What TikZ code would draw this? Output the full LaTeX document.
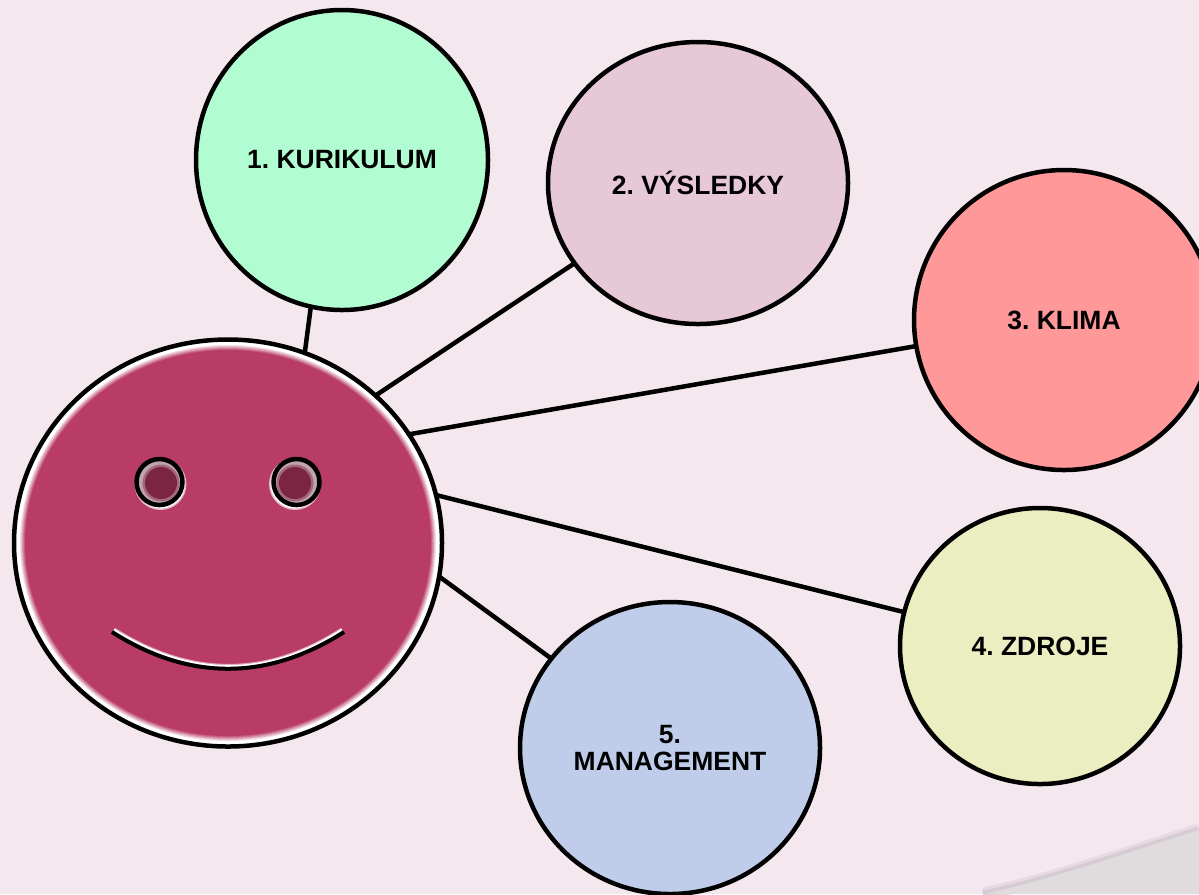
\documentclass[tikz,border=0pt]{standalone}
\usepackage{fontspec}
\setmainfont{Liberation Sans}
\usetikzlibrary{shapes.geometric}
\definecolor{PageBg}{RGB}{244, 231, 238}
\definecolor{CurlGrey}{RGB}{224, 220, 221}
\definecolor{CurlShade}{RGB}{214, 202, 212}
\definecolor{FaceRose}{RGB}{184, 60, 102}
\definecolor{EyeDark}{RGB}{123, 37, 67}
\tikzset{
  topic/.style={draw=black, line width=0.045cm, ellipse, inner sep=0pt, outer sep=0pt,
    align=center, font=\fontsize{7.53}{7.4}\selectfont\bfseries\frenchspacing},
  spoke/.style={draw=black, line width=0.045cm},
  curlline/.style={line cap=square}
}

\begin{document}
\begin{tikzpicture}
    \path[use as bounding box, clip] (0,0) rectangle (11.99,-8.94);
    \fill[PageBg] (0,0) rectangle (11.99,-8.94);
    % page corner
    \draw[curlline, CurlShade!45!PageBg, line width=0.13cm] (9.83,-8.94) .. controls (10.5,-8.8) and (11.2,-8.55) .. (11.99,-8.3);
    \draw[curlline, CurlShade, line width=0.07cm] (9.83,-8.94) .. controls (10.5,-8.8) and (11.2,-8.55) .. (11.99,-8.3);
    \fill[CurlGrey] (9.83,-8.94) .. controls (10.5,-8.8) and (11.2,-8.55) .. (11.99,-8.3) -- (11.99,-8.94) -- cycle;

    \node[topic, fill=white, minimum width=4.28cm, minimum height=4.07cm] (face) at (2.28,-5.43) {};
    \node[topic, fill={rgb,255:red,178;green,252;blue,210}, minimum width=2.92cm, minimum height=3cm] (kurikulum) at (3.42,-1.6) {1. KURIKULUM};
    \node[topic, fill={rgb,255:red,230;green,200;blue,214}, minimum width=3cm, minimum height=2.82cm] (vysledky) at (6.98,-1.83) {2. VÝSLEDKY};
    \node[topic, fill={rgb,255:red,255;green,153;blue,153}, minimum width=3cm, minimum height=3cm] (klima) at (10.64,-3.2) {3. KLIMA};
    \node[topic, fill={rgb,255:red,234;green,238;blue,192}, minimum width=2.8cm, minimum height=2.76cm] (zdroje) at (10.4,-6.46) {4. ZDROJE};
    \node[topic, fill={rgb,255:red,192;green,205;blue,234}, minimum width=3cm, minimum height=2.92cm] (management) at (6.7,-7.48) {5.\\MANAGEMENT};

    \draw[spoke] (face.68.8) -- (kurikulum.258);
    \draw[spoke] (face.45.2) -- (vysledky.213.4);
    \draw[spoke] (face.31) -- (klima.190);
    \draw[spoke] (face.13.7) -- (zdroje.166.9);
    \draw[spoke] (face.-9) -- (management.143.2);

    % soft edge of the face
    \foreach \d in {0,...,6} {
        \pgfmathsetmacro{\mix}{\d*100/6}
        \fill[FaceRose!\mix!white] (face.center) ellipse [x radius=2.09-0.01*\d, y radius=1.99-0.01*\d];
    }

    % eyes
    \foreach \i/\ex/\sx/\dx in {1/1.595/0.01/0.015, 2/2.965/-0.015/-0.015} {
        \fill[FaceRose!35!white] (\ex+\sx,-4.84) circle (0.26);
        \fill[white] (\ex+\sx,-4.84) circle (0.245);
        \node[draw=black, line width=0.045cm, circle, fill=black!25!EyeDark!40!white, inner sep=0pt, outer sep=0pt, minimum size=0.46cm] (eye\i) at (\ex,-4.82) {};
        \fill[EyeDark!70!white] (\ex+\dx,-4.83) circle (0.185);
        \fill[EyeDark] (\ex+\dx,-4.83) circle (0.16);
    }

    % smile
    \draw[FaceRose!45!white, line width=0.04cm] (1.14,-6.295) .. controls (1.91,-6.78) and (2.67,-6.78) .. (3.42,-6.295);
    \draw[white, line width=0.018cm] (1.14,-6.295) .. controls (1.91,-6.78) and (2.67,-6.78) .. (3.42,-6.295);
    \draw[black, line width=0.04cm] (1.12,-6.32) .. controls (1.89,-6.81) and (2.67,-6.81) .. (3.44,-6.32);
\end{tikzpicture}
\end{document}
